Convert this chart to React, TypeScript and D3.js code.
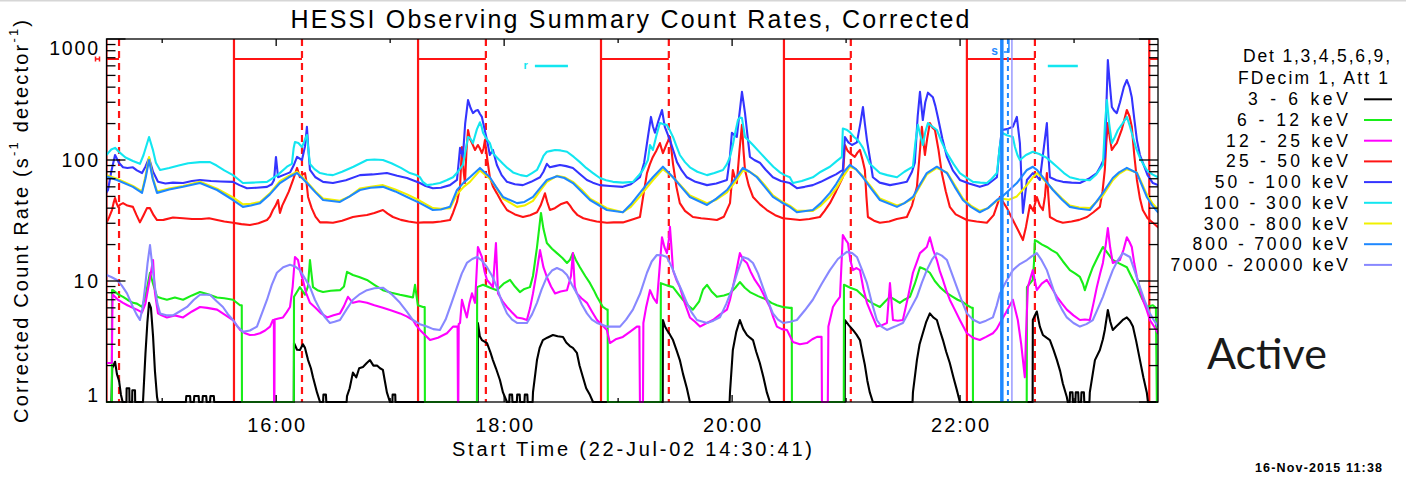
import React from "react";
import * as d3 from "d3";

type Pt = [number, number];

// Observation start 22-Jul-2002 14:30:41 UT; series times are minutes after it.
const START_UTC = Date.UTC(2002, 6, 22, 14, 30, 41);
const SPAN_MINUTES = 553.5;

// Corrected count rates (s^-1 detector^-1) per energy band: [minutes, rate]
const rate3to6: Pt[] = [
  [0, 1], [2.6, 1], [3.0, 1.9], [4.5, 2.15], [5.5, 1.7], [6.6, 1.5], [7.6, 1.15], [8.5, 1],
  [10.5, 1], [10.6, 1.3], [12, 1.3], [12.1, 1], [13.5, 1], [13.6, 1.25], [15, 1.25], [15.1, 1],
  [19.2, 1], [20.5, 2.5], [21.5, 4.5], [22.4, 6.6], [23.4, 6.0], [24.5, 3.5], [25.5, 1.8], [26.6, 1.1], [27.1, 1],
  [41.8, 1], [42, 1.12], [44, 1.12], [44.2, 1], [46, 1], [46.2, 1.12], [48.5, 1.12], [48.7, 1], [50.5, 1], [50.7, 1.12],
  [52.5, 1.12], [52.7, 1], [54.5, 1], [54.7, 1.12], [56.5, 1.12], [56.7, 1],
  [98.6, 1], [98.7, 3.07], [100.3, 2.7], [101.8, 2.69], [103.4, 3.0], [104.5, 2.8], [106.1, 2.22], [107.6, 1.9], [108.7, 1.6], [110.8, 1.2], [112.4, 1],
  [114, 1], [114.2, 1.15], [115.5, 1.15], [115.7, 1],
  [126.4, 1], [126.6, 1.12], [128, 1.3], [129.7, 1.75], [131.5, 1.6], [133, 1.9], [135, 1.95], [137, 2.1], [138.7, 2.22], [140.5, 2.0],
  [142.4, 2.0], [144, 1.9], [145.5, 1.84], [146.5, 1.5], [147.6, 1.2], [149.2, 1],
  [150.5, 1], [150.6, 1.15], [152, 1.15], [152.1, 1],
  [195.4, 1], [195.5, 4.5], [196.5, 3.5], [197.6, 3.25], [200.3, 3.07], [202, 2.6], [203.4, 2.22], [205, 1.9], [207.1, 1.52], [208.7, 1.2], [210.8, 1],
  [212, 1], [212.2, 1.15], [213.5, 1.15], [213.7, 1], [216, 1], [216.2, 1.15], [217.5, 1.15], [217.7, 1], [220, 1], [220.2, 1.15], [221.5, 1.15], [221.7, 1],
  [224.3, 1], [224.5, 1.2], [226.6, 2.22], [228, 2.8], [229.7, 3.25], [232, 3.4], [235, 3.58], [237.5, 3.5], [240.3, 3.45], [242, 3.1],
  [243.9, 2.9], [245.5, 2.8], [247.6, 2.55], [249, 2.0], [250.8, 1.6], [252.5, 1.3], [254.5, 1.14], [256.1, 1],
  [292.8, 1], [292.9, 4.76], [294, 4.2], [295, 3.94], [296.6, 3.6], [298.2, 3.25], [300, 2.7], [301.8, 2.22], [303.5, 1.7], [305.5, 1.3], [307.1, 1],
  [328, 1], [328.2, 1.2], [329.7, 2.69], [331.5, 3.8], [333.4, 4.76], [335.2, 4.0], [337.1, 3.58], [338.7, 3.4], [340.3, 3.25], [342, 2.6],
  [343.9, 2.1], [345.8, 1.6], [347.6, 1.2], [349.2, 1],
  [388.6, 1], [388.7, 4.76], [390.8, 4.3], [392.9, 3.94], [394.8, 3.6], [396.6, 3.25], [398, 2.5], [399.2, 2.02], [400.5, 1.5], [401.8, 1.2], [403.4, 1],
  [424.3, 1], [424.5, 1.2], [426.6, 2.22], [428, 3.0], [429.7, 3.7], [431.5, 4.6], [433.4, 5.4], [435.2, 5.0], [437.1, 4.76], [438.7, 3.9],
  [440.3, 3.25], [442, 2.6], [443.9, 2.1], [445.8, 1.6], [447.6, 1.26], [449.2, 1],
  [487.5, 1], [487.6, 4.76], [489.7, 5.6], [491.3, 4.2], [492.9, 3.58], [494.8, 3.4], [496.6, 3.25], [498.5, 2.7], [500.3, 2.22], [502, 1.8],
  [503.4, 1.42], [505.5, 1.1], [506, 1],
  [507, 1], [507.2, 1.2], [508.5, 1.2], [508.7, 1], [510, 1], [510.2, 1.2], [511.5, 1.2], [511.7, 1], [513, 1], [513.2, 1.2], [514.5, 1.2], [514.7, 1],
  [517.4, 1], [517.6, 1.2], [520.3, 2.22], [522.9, 2.69], [524.5, 3.3], [525.5, 3.94], [527.1, 5.76], [528.4, 4.6], [529.7, 3.94], [531.5, 4.2],
  [533.4, 4.5], [535.2, 4.8], [537.1, 5.0], [538.7, 4.7], [540.3, 4.2], [542, 3.2], [544, 2.22], [545.8, 1.6], [547.6, 1.2], [548.2, 1], [553.5, 1],
];

const rate6to12: Pt[] = [
  [0, 1], [2.8, 1], [2.9, 8.4], [3.4, 8.4], [6, 7.8], [8.7, 7.4], [11, 7.0], [13.9, 6.6], [16, 6.5], [18.7, 6.1], [20.5, 7.5], [22.9, 11.7],
  [24.5, 9.5], [26.6, 7.4], [29, 7.2], [31.8, 7.0], [36, 7.3], [40.3, 7.0], [45, 7.6], [49.2, 8.1], [53, 7.8], [58.2, 7.3], [62, 7.2],
  [66.6, 7.0], [70.3, 6.3], [71.2, 6.3], [71.3, 1],
  [98.6, 1], [98.7, 7.4], [100, 8.0], [101.8, 8.9], [104.5, 7.7], [106, 9], [107.1, 14.9], [108.7, 8.9], [111, 8.4], [114, 8.1], [118, 8.3],
  [122.9, 8.4], [125, 9.0], [126.6, 11.9], [129.7, 11.2], [133, 10.8], [137.1, 10.2], [141, 9.3], [145.5, 8.4], [150, 8.0], [154.5, 7.7],
  [158, 7.5], [161.3, 7.3], [162.4, 9.3], [163.9, 6.3], [166.6, 6.1], [167.5, 6.1], [167.6, 1],
  [195, 1], [195.1, 8.9], [198.2, 9.3], [202, 8.8], [205.5, 8.4], [209, 9.5], [212.4, 10.2], [215, 9.0], [217.6, 8.1], [220, 8.6], [222.9, 8.9],
  [224.5, 11], [226.6, 19], [228.7, 36.5], [230, 27], [231.8, 20.6], [234.5, 18.5], [237.1, 17], [240, 15.5], [242.4, 14.1], [244, 15],
  [245.5, 17], [247, 15], [249.2, 13], [252, 11], [254.5, 9.6], [256.5, 8.4], [258.2, 7.4], [261.3, 6.1], [263.4, 5.8], [263.8, 5.8], [263.9, 1],
  [291.7, 1], [291.8, 9.6], [295, 9.2], [298.2, 8.9], [301, 7.8], [303.4, 7.0], [306, 6.3], [308.7, 5.8], [312, 6.8], [314, 8.5], [316.1, 9.3],
  [318.5, 8.2], [321.3, 7.4], [325, 7.6], [328.2, 7.9], [331, 8.8], [333.4, 9.8], [336, 8.8], [338.7, 8.1], [343, 7.5], [347.6, 7.0], [350, 6.6],
  [352.9, 6.3], [356, 6.1], [359.7, 6.0], [360.7, 6.0], [360.8, 1],
  [388.1, 1], [388.2, 9.3], [391.5, 8.8], [395, 8.4], [397.5, 7.7], [400.3, 7.0], [403.5, 6.5], [407.1, 6.1], [410, 6.8], [412.4, 7.4], [415, 7.0],
  [417.6, 6.6], [420, 7.0], [422.9, 7.4], [425.5, 9.5], [428.2, 13], [430.8, 12.5], [433.4, 11.7], [436, 10], [438.7, 8.9], [442, 8.0],
  [445.5, 7.4], [448, 7.0], [450.8, 6.7], [453, 6.3], [455.5, 6.0], [456, 6.0], [456.1, 1],
  [484.4, 1], [484.5, 8.9], [486, 9.5], [487.6, 10.2], [488.2, 14], [488.7, 21.8], [490.5, 21], [492.5, 20], [495, 19.1], [497.5, 18], [500.3, 17],
  [503.5, 14.5], [507.1, 12.3], [510, 11.5], [512.4, 10.8], [514, 9.5], [515, 8.4], [517, 10.5], [519.2, 13], [522, 16], [524.5, 19.1], [527, 17],
  [529.7, 14.9], [533, 14], [537.1, 13], [540, 10.5], [542.4, 8.9], [545, 7.2], [547.6, 6.1], [550.8, 6.3], [552.4, 6.0], [552.9, 1], [553.5, 1],
];

const rate12to25: Pt[] = [
  [0, 2.1], [2.8, 2.1], [3.2, 7.7], [3.4, 7.7], [6, 7.0], [8.7, 6.6], [11, 6.3], [13.9, 6.0], [16, 5.8], [18.7, 5.5], [20.5, 6.5], [22.9, 10.6],
  [24.5, 14.9], [25.5, 8], [27.1, 5.4], [29, 5.2], [31.8, 5.0], [36, 5.2], [40.3, 5.0], [45, 5.6], [49.2, 6.1], [53, 6.0], [58.2, 5.8], [62, 5.3],
  [66.6, 4.76], [68.5, 4.3], [70.3, 3.94], [73, 3.7], [75.5, 3.58], [78, 3.6], [80.8, 3.7], [83.5, 3.9], [86.1, 4.2], [87.6, 4.76], [88.1, 4.76],
  [88.2, 1], [88.4, 1], [88.5, 4.8], [90.5, 4.9], [92.9, 5.0], [94.8, 5.5], [96.6, 6.1], [98, 9], [99.2, 15.8], [100.8, 14.9], [102, 12],
  [103.4, 10.2], [105, 8], [107.1, 6.6], [110, 6.0], [113, 5.4], [116.1, 5.0], [119.5, 5.2], [122.9, 5.4], [125, 6.2], [127.1, 7.4], [129.7, 6.6],
  [133, 6.8], [137.1, 6.6], [141, 6.3], [145.5, 6.0], [150, 5.7], [154.5, 5.4], [158, 5.1], [161.3, 4.76], [163, 4.3], [165, 3.94], [167.5, 3.6],
  [170.3, 3.25], [174.5, 3.4], [179.2, 3.7], [182.4, 4.2], [184.8, 4.2], [185, 1], [185.2, 1], [185.4, 4.4], [186.1, 4.5], [187.1, 7.0],
  [188.5, 5.8], [189.7, 5.0], [191, 6.5], [192.4, 7.9], [194, 6.6], [195.5, 19.1], [197.6, 15.8], [199, 12], [200.3, 10.2], [202, 9.5],
  [203.4, 8.9], [205, 20.6], [206.1, 7.9], [208.5, 6.8], [210.8, 6.1], [213.5, 5.5], [216.1, 5.0], [219, 4.9], [221.3, 4.76], [223, 6],
  [224.5, 7.9], [226.5, 12], [228.2, 18], [230, 13], [231.8, 10.8], [234, 9], [236.1, 7.9], [239, 8.2], [242.4, 8.4], [244.5, 11], [245.5, 17],
  [246.5, 9], [247.6, 7.9], [250, 7.2], [252.9, 6.6], [255.5, 5.6], [258.2, 4.76], [261, 4.3], [263.4, 3.94], [265, 3.07], [268, 3.3],
  [271.8, 3.45], [275.5, 3.8], [279.2, 4.2], [280.5, 4.2], [280.8, 1], [282.4, 1], [282.6, 4.5], [284, 6], [286.1, 8.4], [287.8, 7.3],
  [289.7, 6.6], [291, 12], [292.4, 23], [293.7, 19], [295, 17], [296, 22], [296.6, 28], [297.5, 18], [298.2, 12.3], [300, 10.2], [301.8, 8.9],
  [304.5, 6.5], [307.1, 5.0], [309.8, 4.6], [312.4, 4.2], [316, 4.5], [319.2, 4.76], [323, 5.3], [326.6, 5.8], [328.2, 7], [329.7, 8.9],
  [331.5, 12], [333.4, 17], [335.2, 15], [337.1, 14.1], [339, 12], [341.3, 10.2], [343.9, 8.9], [346.5, 7.4], [349.2, 6.1], [351, 5.0],
  [352.9, 4.2], [355.5, 4.0], [358.2, 3.94], [361.3, 3.13], [365, 3.0], [368.7, 3.07], [371.5, 3.3], [374, 3.45], [376.4, 3.45], [376.6, 1],
  [379.7, 1], [380, 4.2], [382.4, 6.1], [384.3, 6.8], [386.1, 7.4], [387.6, 24], [389, 22], [390.3, 20.6], [391.5, 15], [392.9, 12.3],
  [394.8, 12.8], [396.6, 12.3], [398.5, 8.5], [400.3, 6.6], [403, 5.2], [405.5, 4.2], [408, 4.3], [410.8, 4.5], [412.4, 9.6], [414, 4.76],
  [416.5, 4.7], [419.2, 4.76], [422, 7.5], [424.5, 11.7], [426.3, 14], [428.2, 17], [430, 18], [431.8, 19.1], [433.4, 23], [435.2, 18],
  [437.1, 14.9], [438.7, 12], [440.3, 10.2], [442, 8.4], [443.9, 7.0], [446.5, 5.8], [449.2, 4.76], [451, 4.2], [452.9, 3.7], [456, 3.4],
  [459.7, 3.25], [463, 3.45], [466.6, 3.7], [468.5, 4.0], [470.3, 4.5], [473.5, 5.5], [477.1, 7.0], [479.7, 4.76], [481.5, 3.0], [483.4, 1.6],
  [484, 3.5], [485, 8.9], [486.3, 10.5], [487.6, 12.3], [489.7, 8.4], [492.3, 9.5], [495, 10.2], [497.5, 8.8], [500.3, 7.4], [503, 6.5],
  [505.5, 5.8], [509, 5.2], [512.4, 4.76], [515, 4.8], [517.6, 4.76], [519.5, 6.5], [521.3, 8.9], [523, 11.5], [524.5, 14.1], [526, 20],
  [527.1, 27.4], [528.3, 19], [529.7, 14.1], [531.5, 14.5], [533.4, 14.9], [535.3, 18], [537.1, 23], [538.5, 21], [539.7, 19.1], [541, 14],
  [542.4, 10.8], [544, 8.5], [545.5, 7.0], [547.5, 5.8], [549.2, 4.76], [551.5, 4.2], [553.5, 3.7],
];

const rate25to50: Pt[] = [
  [0, 30.3], [1.5, 34], [2.9, 38.6], [3.7, 44], [4.5, 48.5], [5.3, 44], [6.1, 41], [7.4, 43], [8.7, 44], [11, 42], [13.9, 41], [15.8, 35],
  [17.6, 30.5], [19.5, 35], [21.3, 40], [22.9, 40], [24.8, 35], [26.6, 31.9], [30, 32], [35, 33.5], [40.3, 33], [45, 32.5], [50, 32.5],
  [54, 33], [58.2, 31.9], [62, 31], [66.6, 30.3], [71, 29.5], [75.5, 29], [80, 30], [84.5, 31.9], [86, 34], [87.6, 38.6], [89, 42],
  [90.3, 46.7], [91.3, 36.5], [92.5, 42], [93.9, 46.7], [96, 55], [98.2, 68.4], [100.3, 86], [101.8, 72], [103.2, 76], [104.5, 78],
  [105.3, 65], [106.1, 49.5], [108, 40], [110, 34], [112.4, 30.5], [116, 30.5], [119.2, 30.3], [124, 31.5], [129.7, 33.8], [133, 34.5],
  [137.1, 35.1], [141, 36.5], [145.5, 38.6], [148, 36], [150.8, 33.8], [155, 32], [159, 31], [163.4, 30.3], [167, 30.5], [171.8, 30.5],
  [176, 31], [180.8, 31.9], [182.4, 36.5], [184.5, 45], [186.1, 60], [187.1, 128], [188, 80], [188.7, 64.5], [189.5, 120], [190.3, 177],
  [191.3, 150], [192.4, 138], [194, 121], [195.5, 133], [196.5, 125], [197.6, 114], [198.5, 125], [199.2, 146], [200.5, 100], [201.8, 72],
  [203.5, 60], [205.5, 53], [208, 45], [210.8, 38.6], [215, 35.5], [219.2, 33.8], [223, 35], [226.6, 37], [228.5, 42], [230.8, 53], [232, 45],
  [233.4, 38.6], [236, 40], [239, 43], [242.4, 45], [244, 42], [245.5, 38.6], [248, 35], [251, 33], [254.5, 31.9], [258, 31], [263.4, 30.3],
  [267, 30.5], [271.8, 30.5], [276, 32], [280.8, 33.8], [282.5, 50], [284.5, 78], [286, 92], [287.6, 106], [289.5, 120], [291.3, 138],
  [292.1, 125], [292.9, 114], [294.8, 135], [296.6, 155], [297.4, 120], [298.2, 93], [300, 60], [301.8, 44], [304.5, 38], [308.7, 33.8],
  [313, 33], [317, 32.5], [321.3, 31.9], [325, 34], [328.2, 44], [329.7, 82.7], [330.7, 72], [331.8, 64.5], [333.2, 120], [334.5, 195],
  [335.3, 120], [336.1, 82.7], [338, 62], [340.3, 49.5], [344, 43], [347.6, 38.6], [352, 35], [356.1, 33], [360, 32.5], [365, 31.9],
  [370, 32.5], [375.5, 33.8], [378, 38], [380.8, 44], [384, 55], [387.6, 72], [388.7, 133], [390, 120], [391.3, 114], [393.9, 106],
  [395.3, 115], [396.6, 121], [398, 100], [399.2, 82.7], [400, 50], [400.8, 33.8], [404, 31.5], [407.1, 30.3], [412, 31], [416, 32.5],
  [421.3, 33.8], [424, 42], [426.6, 60], [428, 110], [429.2, 188], [430.8, 110], [432, 150], [433.4, 202], [434.8, 185], [436.1, 177],
  [438, 120], [439.7, 78], [441.8, 55], [443.9, 41], [447, 35.5], [452.9, 31.9], [458, 31], [463.4, 30.3], [467, 35], [470.3, 49.5],
  [474, 40], [477.1, 31.9], [480, 26], [482.4, 21.8], [484, 28], [486.1, 42.5], [487.8, 38], [489.7, 49.5], [491.3, 42], [492.9, 38.6],
  [494, 50], [495, 78], [495.8, 50], [496.6, 33.8], [500, 31.5], [503.4, 30.3], [508, 31], [512, 32], [516.1, 33.8], [519.5, 37], [522.9, 41],
  [524.3, 55], [525.5, 82.7], [526.3, 140], [527.1, 202], [528.2, 150], [529.2, 121], [530.5, 130], [531.8, 138], [534.5, 180], [537.1, 259],
  [538.5, 230], [539.7, 188], [541, 110], [542.4, 68.4], [544, 48], [545.5, 38.6], [548, 33], [550.8, 30.3], [553.5, 27.8],
];

const rate50to100: Pt[] = [
  [0, 54], [0.8, 56.5], [2.5, 80], [4.5, 110], [6.5, 95], [8.7, 87], [11, 86], [13.9, 87], [16, 82], [18.7, 78], [20.5, 88], [22.4, 104],
  [24.5, 80], [27.1, 66], [31, 64], [35, 65], [40.3, 64.5], [45, 67], [49.2, 68.4], [55, 67], [60, 66.5], [66.6, 66], [70, 62], [73.9, 58.5],
  [79, 59], [84.5, 60], [87, 63], [88.2, 68.4], [89.2, 106], [90.3, 72], [93, 75], [96.6, 79], [98.5, 90], [100.3, 106], [102.9, 100],
  [104.5, 130], [105.5, 188], [106.3, 120], [107.1, 82.7], [110, 72], [114, 66], [119.2, 64.5], [126, 68], [133.4, 75], [140, 76],
  [147.6, 78], [153, 74], [158.2, 71], [165, 64.5], [168, 61], [171.8, 58.5], [176, 59], [180.8, 62], [184.5, 68.4], [185.5, 100],
  [186.1, 126], [187.6, 106], [188.8, 200], [190.3, 313], [191.6, 270], [192.9, 244], [194.3, 255], [195.5, 259], [196.6, 240],
  [197.6, 227], [199, 180], [200.3, 146], [201.8, 110], [203.4, 121], [205.5, 91], [208, 75], [210.8, 66], [215, 63], [219.2, 62],
  [223.5, 66], [228.2, 72], [230, 80], [231.8, 93], [233.4, 87], [236, 89], [238.7, 91], [242, 89], [245.5, 86], [249, 77], [252.9, 68.4],
  [256, 65], [259.7, 62], [265, 61], [271.8, 60], [276, 63], [280.8, 72], [283, 95], [285, 155], [286.6, 227], [287.6, 190], [288.7, 168],
  [290.5, 210], [292.4, 259], [293.9, 188], [296.6, 146], [298.5, 118], [300.3, 96], [302.8, 82], [305.5, 72], [310, 66], [316.1, 62],
  [321, 64], [326.6, 68.4], [328, 100], [329.2, 168], [330.5, 160], [331.8, 155], [333.3, 250], [334.5, 366], [335.3, 300], [336.1, 244],
  [337.4, 160], [338.7, 106], [341, 100], [343.9, 95], [347, 83], [350.8, 72], [355, 67], [359.7, 64.5], [363.4, 58.5], [367.5, 60],
  [371.8, 62], [376, 66], [380.8, 72], [384, 76], [387.6, 82.7], [388.7, 155], [390.5, 140], [392.4, 133], [395, 140], [396.8, 200],
  [398.2, 274], [399.2, 200], [400.3, 146], [402, 100], [403.4, 72], [407, 65], [412.4, 62], [417, 64], [421.3, 66], [424, 80], [425.5, 95],
  [427, 230], [428.2, 366], [429.7, 214], [431, 300], [432.4, 360], [433.7, 345], [435, 330], [436.3, 280], [437.6, 227], [440, 150],
  [442.4, 106], [445.5, 82], [449.2, 68.4], [454, 64], [459.7, 60], [464, 63], [468.7, 72], [470, 120], [471.3, 177], [474, 180],
  [477.1, 188], [479.2, 227], [480.8, 138], [482.4, 36.5], [484.5, 68.4], [487.6, 78], [489.5, 74], [491.3, 68.4], [493.5, 130], [495, 202],
  [495.8, 110], [496.6, 72], [500, 68], [503.4, 66], [508, 65], [512.4, 64.5], [517, 70], [521.3, 78], [523.5, 90], [525.5, 106],
  [526.4, 300], [527.1, 670], [528, 450], [529.2, 274], [530.5, 255], [531.8, 244], [533.5, 300], [535.5, 400], [537.1, 458], [538.5, 400],
  [539.7, 330], [541, 220], [542.4, 146], [544, 110], [545.5, 95], [548, 75], [550.8, 64.5], [553.5, 62],
];

const rate100to300: Pt[] = [
  [0, 110], [0.8, 114], [2.5, 122], [4.5, 126], [7, 115], [10, 105], [13.9, 98], [17.6, 93], [19.5, 110], [22.4, 155], [24.5, 120], [26, 95],
  [28.2, 82.7], [33, 86], [38, 90], [43, 94], [49.2, 96], [54.5, 96], [58, 90], [62, 82], [66.6, 75], [69, 70], [71.8, 64.5], [77, 65],
  [84.5, 66], [90, 75], [95, 88], [97.6, 93], [98.5, 125], [99.2, 141], [101, 138], [102.9, 128], [104.3, 145], [105.5, 161], [106.3, 120],
  [107.1, 93], [109.5, 84], [112.4, 78], [116, 76], [119.2, 75], [124, 80], [130, 88], [137.1, 100], [141, 101], [145.5, 100], [150, 94],
  [155, 86], [159.7, 78], [163, 75], [165, 72], [166.5, 66], [168.7, 62], [172, 63], [175.5, 64.5], [179, 68], [182.4, 72], [185, 80],
  [187.6, 91], [190.3, 155], [191.6, 150], [192.9, 138], [195, 180], [196.6, 205], [197.4, 190], [198.2, 168], [200, 150], [201.8, 138],
  [203.4, 114], [206, 103], [208.7, 93], [211, 86], [214, 79], [218, 75], [221.3, 73.5], [224, 78], [226.6, 82.7], [228.2, 93], [230, 108],
  [231.8, 117], [234, 119], [236.1, 121], [239, 120], [242.4, 117], [246, 106], [249.2, 96], [252.5, 86], [256.1, 78], [259.7, 71],
  [263, 68], [266.6, 66], [271.8, 65], [277.1, 66], [280, 74], [282.4, 82.7], [285, 100], [286.1, 133], [287.6, 121], [289.5, 160],
  [291.3, 202], [293, 198], [295, 195], [296.6, 175], [298.2, 155], [300, 130], [301.8, 110], [304.5, 96], [307.1, 87], [311, 80],
  [316.1, 75], [320, 78], [324.5, 82.7], [326.5, 92], [328.2, 106], [329.7, 133], [331, 170], [332.4, 214], [333.5, 225], [334.5, 222],
  [335.3, 185], [336.1, 155], [338, 145], [340.3, 133], [344, 115], [347.6, 100], [351, 88], [354.5, 79], [357, 75], [359.7, 72],
  [361.3, 64.5], [366, 67], [371.8, 72], [376, 80], [380.8, 88], [384, 97], [387.1, 106], [387.6, 182], [389.5, 178], [391.3, 170],
  [393.5, 155], [395.5, 146], [397, 135], [398.2, 126], [400, 108], [401.8, 93], [404.5, 85], [407.1, 78], [411, 75], [416.1, 72], [420, 80],
  [424.5, 88], [425.8, 140], [427.1, 195], [428.4, 160], [429.7, 133], [431, 170], [432.4, 202], [434.5, 190], [437.1, 177], [439.7, 140],
  [442.4, 114], [446, 92], [449.2, 78], [452.5, 72], [456.1, 66], [460, 65], [463.4, 64.5], [466, 70], [468.7, 78], [470, 120], [471.3, 168],
  [474, 160], [477.1, 155], [478.2, 128], [479.5, 110], [480.8, 100], [484, 110], [487.6, 117], [491, 112], [495, 104], [497.5, 96],
  [500.3, 88], [504, 78], [507.1, 72], [512, 69], [517.6, 68], [521, 76], [524.5, 91], [525.6, 200], [526.6, 313], [527.8, 200], [529.2, 138],
  [530.8, 155], [532.4, 177], [534.8, 200], [537.1, 227], [538.7, 190], [540.3, 155], [542, 125], [544, 104], [545.8, 92], [547.6, 82.7],
  [550.5, 76], [553.5, 72],
];

const rate300to800: Pt[] = [
  [0, 75], [5.5, 70], [13.9, 61], [18.7, 55], [20.5, 73], [22.4, 106], [24.3, 72], [26.6, 55], [33, 58], [40.3, 61], [49.2, 66], [58.2, 58],
  [66.6, 49], [71.8, 43], [76, 43.5], [80.8, 45], [86, 53], [91.3, 67], [96, 74], [100.3, 80], [105.5, 66], [110, 55], [114, 48], [122.9, 46],
  [128, 50], [133.4, 58], [139, 60], [145.5, 62], [152, 57], [158.2, 52], [165, 46], [171.8, 40], [176, 39.5], [180.8, 40], [184.5, 52],
  [188, 60], [191.3, 66], [196.6, 82], [201.8, 70], [205, 60], [208.7, 48], [216.1, 41], [220, 42], [224.5, 46], [228, 55], [231.8, 66],
  [237.1, 74], [241, 72], [245.5, 66], [250, 57], [254.5, 48], [263.4, 40], [271.8, 37], [276, 41], [280.8, 50], [284, 58], [287.6, 68],
  [292.9, 84], [298.2, 72], [302.5, 61], [307.1, 51], [316.1, 44], [321, 47], [326.6, 54], [331, 66], [335, 82], [338.5, 80], [342.4, 73],
  [346.5, 62], [350.8, 51], [355, 46], [359.7, 42], [363.4, 38], [371.8, 38], [376, 42], [380.8, 50], [384, 58], [387.6, 72], [391.3, 88],
  [394.5, 84], [398.2, 73], [402.5, 60], [407.1, 48], [416.1, 42], [420, 44], [424.5, 48], [428, 60], [431.8, 76], [437.1, 86], [442.4, 79],
  [446.5, 62], [450.8, 48], [455, 42], [459.7, 38], [464, 40], [468.7, 46], [471.3, 48], [475, 47], [479.2, 50], [484.5, 62], [487.6, 72],
  [490, 78], [492.9, 70], [498.2, 57], [503, 48], [507.1, 42], [512, 40.5], [517.6, 40], [521, 45], [524.5, 51], [529.7, 68], [533, 77],
  [537.1, 84], [542.4, 79], [545, 64], [547.6, 52], [550.5, 44], [553.5, 39],
];

const rate800to7000: Pt[] = [
  [0, 73], [5.5, 68.4], [13.9, 60], [18.7, 53.5], [20.5, 70], [22.4, 100], [24.3, 70], [26.6, 53.5], [33, 57], [40.3, 60], [49.2, 64.5],
  [58.2, 56.5], [66.6, 46.7], [71.8, 41], [76, 42], [80.8, 44], [86, 52], [91.3, 64.5], [96, 72], [100.3, 78], [105.5, 64.5], [110, 54],
  [114, 46.7], [122.9, 45], [128, 50], [133.4, 56.5], [139, 59], [145.5, 60], [152, 55], [158.2, 49.5], [165, 44], [171.8, 38.6], [176, 39],
  [180.8, 41], [184.5, 56.5], [188, 65], [191.3, 72], [196.6, 86], [201.8, 72], [205, 60], [208.7, 49.5], [216.1, 44], [220, 45],
  [224.5, 49.5], [228, 58], [231.8, 68.4], [237.1, 73.5], [241, 71], [245.5, 64.5], [250, 55], [254.5, 46.7], [263.4, 38.6], [271.8, 37],
  [276, 43], [280.8, 53.5], [284, 62], [287.6, 72], [292.9, 88], [298.2, 72], [302.5, 60], [307.1, 49.5], [316.1, 42.5], [321, 48],
  [326.6, 56.5], [331, 70], [335, 86], [338.5, 80], [342.4, 72], [346.5, 60], [350.8, 49.5], [355, 45], [359.7, 41], [363.4, 37], [371.8, 38.6],
  [376, 44], [380.8, 53.5], [384, 63], [387.6, 78], [391.3, 91], [394.5, 84], [398.2, 72], [402.5, 58], [407.1, 46.7], [416.1, 41], [420, 44],
  [424.5, 49.5], [428, 62], [431.8, 78], [437.1, 88], [442.4, 78], [446.5, 60], [450.8, 46.7], [455, 41], [459.7, 37], [464, 40], [468.7, 46.7],
  [471.3, 49.5], [479.2, 64.5], [484.5, 82.7], [487.6, 88], [490, 82], [492.9, 72], [498.2, 56.5], [503, 47], [507.1, 41], [512, 39.5],
  [517.6, 38.6], [521, 45], [524.5, 53.5], [529.7, 71], [533, 79], [537.1, 86], [542.4, 78], [545, 62], [547.6, 49.5], [550.5, 42], [553.5, 37],
];

const rate7000to20000: Pt[] = [
  [0, 11.2], [2.5, 10.8], [5.5, 10.2], [8, 9.2], [10.8, 7.9], [13.9, 6.1], [15.8, 5.3], [17.6, 4.76], [19, 6], [20.3, 8.9], [21.6, 14],
  [22.9, 19.8], [24.2, 13], [25.5, 8.9], [26.8, 6.5], [28.2, 5.4], [31.5, 5.2], [35, 5.2], [38.5, 5.6], [42.4, 6.1], [46, 7.0], [49.2, 7.7],
  [54.5, 7.7], [58, 6.8], [61.3, 6.1], [64, 5.3], [66.6, 4.76], [69, 4.2], [71.8, 3.8], [75.5, 3.9], [79.2, 4.2], [82, 5.5], [84.5, 7.0],
  [87, 9.3], [89.7, 11.7], [93, 13], [96.6, 13.6], [99.2, 13.2], [101.8, 12.3], [104.5, 10.5], [107.1, 8.9], [109.7, 7.0], [112.4, 5.8],
  [115, 5.0], [117.6, 4.5], [120, 4.6], [122.9, 4.76], [126.3, 5.8], [129.7, 7.0], [133.4, 7.8], [137.1, 8.4], [141, 8.7], [145.5, 8.8],
  [150, 7.8], [154.5, 6.6], [158, 5.6], [161.3, 4.76], [165, 4.4], [168.7, 4.2], [172, 4.0], [175.5, 3.94], [178.5, 4.8], [181.5, 6.5],
  [184.5, 8.9], [187, 11.5], [189.7, 14.1], [192.5, 15.2], [195, 15.8], [197.5, 14.8], [200.3, 13], [203, 11], [205.5, 8.9], [208, 6.8],
  [210.8, 5.4], [213.5, 4.8], [216.1, 4.5], [221.3, 4.5], [224, 5.3], [226.6, 6.6], [229, 8.5], [231.8, 10.8], [234.5, 12.2], [237.1, 12.8],
  [240, 12.2], [242.4, 11.2], [245, 9.3], [247.6, 7.9], [250.2, 6.4], [252.9, 5.4], [255.5, 4.8], [258.2, 4.5], [263.4, 4.2], [270.3, 4.2],
  [273.5, 4.8], [277.1, 5.8], [280.8, 7.8], [284.5, 11.7], [287, 14.5], [289.7, 16.4], [292.4, 16.3], [295, 15.8], [297.6, 13], [300.3, 10.2],
  [303, 8.2], [305.5, 6.6], [308, 5.5], [310.8, 4.76], [316.1, 4.5], [319.5, 4.7], [322.9, 5.0], [326.3, 6.5], [329.7, 8.9], [332.4, 12.2],
  [335, 15.8], [337.6, 15.3], [340.3, 14.1], [343, 11.5], [345.5, 8.9], [348, 6.9], [350.8, 5.4], [353.5, 4.8], [356.1, 4.5], [360, 4.6],
  [363.4, 4.76], [367.5, 5.7], [371.8, 7.0], [376.5, 9.5], [380.8, 12.3], [385, 15.2], [389.7, 17.4], [392.5, 17], [395, 15.8], [397.6, 12.5],
  [400.3, 9.6], [403, 6.5], [405.5, 4.76], [408, 4.2], [410.8, 3.94], [415, 4.2], [419.2, 4.5], [423, 5.8], [426.6, 7.4], [429.2, 9.7],
  [431.8, 12.3], [434.5, 15], [437.1, 17], [439.7, 16.2], [442.4, 14.9], [445, 11.5], [447.6, 8.9], [450.3, 6.8], [452.9, 5.4], [456, 4.8],
  [459.7, 4.5], [463, 4.7], [466.6, 5.0], [468.5, 6.2], [470.3, 7.9], [473.7, 10], [477.1, 12.3], [480.8, 13.8], [484.5, 14.9], [487, 16],
  [489.7, 17], [492.3, 14.8], [495, 12.3], [497.6, 9.3], [500.3, 7.0], [503, 5.8], [505.5, 5.0], [509, 4.5], [512.4, 4.2], [515.8, 4.4],
  [519.2, 4.76], [522, 6], [524.5, 7.4], [527, 9.5], [529.7, 12.3], [532.3, 14.8], [535, 17], [536.8, 16.4], [538.7, 15.8], [541.3, 12],
  [544, 8.9], [546.6, 6.8], [549.2, 5.4], [551.5, 4.7], [553.5, 4.2],
];

const bandLabels = [
  "3 - 6 keV", "6 - 12 keV", "12 - 25 keV", "25 - 50 keV", "50 - 100 keV",
  "100 - 300 keV", "300 - 800 keV", "800 - 7000 keV", "7000 - 20000 keV",
];
const bandColors = [
  "#000000", "#18ee18", "#ff00ff", "#ff1414", "#3434ff",
  "#12e6f0", "#f0f000", "#1e88ff", "#8888ff",
];
const bandSeries = [
  rate3to6, rate6to12, rate12to25, rate25to50, rate50to100,
  rate100to300, rate300to800, rate800to7000, rate7000to20000,
];

// Orbit night intervals (minutes after start): solid line at entry, dashed at exit
const nightEntry = [0, 67.1, 164, 260.3, 356.6, 452.9, 548.9];
const nightExit = [6.6, 102.9, 199.7, 296, 391.8, 488.7, 600];
// Flag intervals drawn in cyan near the top
const flagSpans: Pt[] = [[225.5, 242.9], [495.5, 511.3]];
// "s" marker times
const sEntry = 471.3;
const sExit = 474.5;
const sEdge = 476.6;

const yTickValues = [1, 10, 100, 1000];
const headerLines = ["Det 1,3,4,5,6,9,", "FDecim 1, Att 1"];

const FONT = "'Liberation Sans', Arial, sans-serif";
const PLOT = { left: 106.5, right: 1158, top: 39, bottom: 402 };

export default function App() {
  const t0 = new Date(START_UTC);
  const t1 = new Date(START_UTC + SPAN_MINUTES * 60000);
  const x = d3.scaleUtc().domain([t0, t1]).range([PLOT.left, PLOT.right]);
  const y = d3.scaleLog().domain([1, 1000]).range([PLOT.bottom, PLOT.top]).clamp(true);
  const tx = (m: number) => x(new Date(START_UTC + m * 60000));
  const line = d3
    .line<Pt>()
    .x((d) => tx(d[0]))
    .y((d) => y(d[1]));

  const hourTicks = d3.utcHour.range(t0, t1);
  const fmt = d3.utcFormat("%H:%M");

  const minorY: number[] = [];
  for (let k = 0; k < 3; k++) for (let m = 2; m <= 9; m++) minorY.push(m * Math.pow(10, k));

  const yLabelPos = (v: number) => Math.min(Math.max(y(v), PLOT.top + 9), PLOT.bottom - 7);

  const redBars = nightEntry.map((s, i) => [Math.max(s, 0), Math.min(nightExit[i], SPAN_MINUTES)]);

  return (
    <svg
      width={1406}
      height={477}
      style={{ position: "absolute", left: 0, top: 0, background: "#fff" }}
      fontFamily={FONT}
    >
      <rect x={0} y={0} width={1406} height={477} fill="#fff" />
      <rect x={0} y={0} width={1406} height={1.5} fill="#d6d6d6" />
      <defs>
        <clipPath id="plotClip">
          <rect x={PLOT.left} y={PLOT.top - 1} width={PLOT.right - PLOT.left} height={PLOT.bottom - PLOT.top + 2} />
        </clipPath>
      </defs>

      <text x={630} y={19} fontSize={25} textAnchor="middle" dominantBaseline="central" textLength={679} lengthAdjust="spacing">
        HESSI Observing Summary Count Rates, Corrected
      </text>

      {/* orbit night markers */}
      <g clipPath="url(#plotClip)">
        {nightEntry.map((m, i) => (
          <line key={"ne" + i} x1={tx(m)} x2={tx(m)} y1={PLOT.top} y2={PLOT.bottom} stroke="#ff1414" strokeWidth={2.2} />
        ))}
        {nightExit.filter((m) => m < SPAN_MINUTES).map((m, i) => (
          <line key={"nx" + i} x1={tx(m)} x2={tx(m)} y1={PLOT.top} y2={PLOT.bottom} stroke="#ff1414" strokeWidth={2.2} strokeDasharray="7,5" />
        ))}
        {redBars.map((b, i) => (
          <line key={"nb" + i} x1={tx(b[0])} x2={tx(b[1])} y1={59} y2={59} stroke="#ff1414" strokeWidth={2} />
        ))}
        {flagSpans.map((s, i) => (
          <line key={"fs" + i} x1={tx(s[0])} x2={tx(s[1])} y1={66} y2={66} stroke="#12e6f0" strokeWidth={2.5} />
        ))}
      </g>
      <path d="M95.5,56.5 V61.5 M99.5,56.5 V61.5 M95.5,59 H99.5" stroke="#ff1414" strokeWidth={1.5} fill="none" />
      <text x={tx(flagSpans[0][0]) - 7} y={65} fontSize={11} fontWeight={700} fill="#12e6f0" textAnchor="end" dominantBaseline="central">
        r
      </text>

      {/* count-rate curves */}
      <g clipPath="url(#plotClip)" fill="none" strokeLinejoin="round" strokeLinecap="round">
        {bandSeries.map((s, i) => (
          <path key={"b" + i} d={line(s) || ""} stroke={bandColors[i]} strokeWidth={2.1} />
        ))}
      </g>

      {/* s marker */}
      <g clipPath="url(#plotClip)">
        <line x1={tx(sEntry)} x2={tx(sEntry)} y1={PLOT.top} y2={PLOT.bottom} stroke="#1e88ff" strokeWidth={3.5} />
        <line x1={tx(sExit)} x2={tx(sExit)} y1={PLOT.top} y2={PLOT.bottom} stroke="#1e88ff" strokeWidth={2} strokeDasharray="5,4" />
        <line x1={tx(sEdge)} x2={tx(sEdge)} y1={PLOT.top} y2={PLOT.bottom} stroke="#9a9aff" strokeWidth={1.5} />
      </g>
      <path d={`M${tx(sExit) + 1},${PLOT.top} V52 H${tx(sEntry) + 2}`} stroke="#1e88ff" strokeWidth={1.5} fill="none" />
      <text x={tx(sEntry) - 4} y={51} fontSize={12} fontWeight={700} fill="#1e88ff" textAnchor="end" dominantBaseline="central">
        s
      </text>

      {/* frame and ticks */}
      <rect x={PLOT.left} y={PLOT.top} width={PLOT.right - PLOT.left} height={PLOT.bottom - PLOT.top} fill="none" stroke="#000" strokeWidth={1.3} />
      {yTickValues.map((v) => (
        <g key={"ym" + v} stroke="#000" strokeWidth={1.3}>
          <line x1={PLOT.left} x2={PLOT.left + 19} y1={y(v)} y2={y(v)} />
          <line x1={PLOT.right} x2={PLOT.right - 19} y1={y(v)} y2={y(v)} />
        </g>
      ))}
      {minorY.map((v) => (
        <g key={"yn" + v} stroke="#000" strokeWidth={1.3}>
          <line x1={PLOT.left} x2={PLOT.left + 9} y1={y(v)} y2={y(v)} />
          <line x1={PLOT.right} x2={PLOT.right - 9} y1={y(v)} y2={y(v)} />
        </g>
      ))}
      {hourTicks.map((h) => {
        const major = h.getUTCHours() % 2 === 0;
        const len = major ? 7 : 4;
        const px = x(h);
        return (
          <g key={"xt" + h.getTime()} stroke="#000" strokeWidth={1.3}>
            <line x1={px} x2={px} y1={PLOT.top} y2={PLOT.top + len} />
            <line x1={px} x2={px} y1={PLOT.bottom} y2={PLOT.bottom - len} />
          </g>
        );
      })}

      {/* axis labels */}
      {yTickValues.map((v) => {
        const s = String(v);
        return (
          <text
            key={"yl" + v}
            x={98}
            y={yLabelPos(v)}
            fontSize={19.5}
            textAnchor="end"
            dominantBaseline="central"
            textLength={s.length > 1 ? s.length * 12.2 : undefined}
            lengthAdjust="spacing"
          >
            {s}
          </text>
        );
      })}
      {hourTicks
        .filter((h) => h.getUTCHours() % 2 === 0)
        .map((h) => (
          <text key={"xl" + h.getTime()} x={x(h)} y={425} fontSize={20} textAnchor="middle" dominantBaseline="central" textLength={58} lengthAdjust="spacing">
            {fmt(h)}
          </text>
        ))}
      <text x={632} y={449} fontSize={20} textAnchor="middle" dominantBaseline="central" textLength={360} lengthAdjust="spacing">
        Start Time (22-Jul-02 14:30:41)
      </text>
      <text transform="translate(21,221.5) rotate(-90)" fontSize={20} textAnchor="middle" dominantBaseline="central" textLength={403} lengthAdjust="spacing">
        Corrected Count Rate (s
        <tspan fontSize={13} dy={-8}>-1</tspan>
        <tspan dy={8}> detector</tspan>
        <tspan fontSize={13} dy={-8}>-1</tspan>
        <tspan dy={8}>)</tspan>
      </text>

      {/* legend */}
      {headerLines.map((t, i) => (
        <text key={"h" + i} x={i === 0 ? 1390 : 1388} y={56 + i * 22} fontSize={17.5} textAnchor="end" dominantBaseline="central" textLength={i === 0 ? 147 : 150} lengthAdjust="spacing">
          {t}
        </text>
      ))}
      {bandLabels.map((t, i) => {
        const ry = 99.3 + i * 20.7;
        return (
          <g key={"lg" + i}>
            <text x={1348} y={ry} fontSize={17.5} textAnchor="end" dominantBaseline="central" textLength={t.length * 11.1} lengthAdjust="spacing">
              {t}
            </text>
            <line x1={1364} x2={1392} y1={ry} y2={ry} stroke={bandColors[i]} strokeWidth={2} />
          </g>
        );
      })}

      <text x={1207} y={369} fontSize={43} fontFamily="Lato, 'Open Sans', sans-serif" fill="#1a1a1a">
        Active
      </text>
      <text x={1382} y={468} fontSize={12.5} fontWeight={700} textAnchor="end" dominantBaseline="central" textLength={127} lengthAdjust="spacing">
        16-Nov-2015 11:38
      </text>
    </svg>
  );
}
